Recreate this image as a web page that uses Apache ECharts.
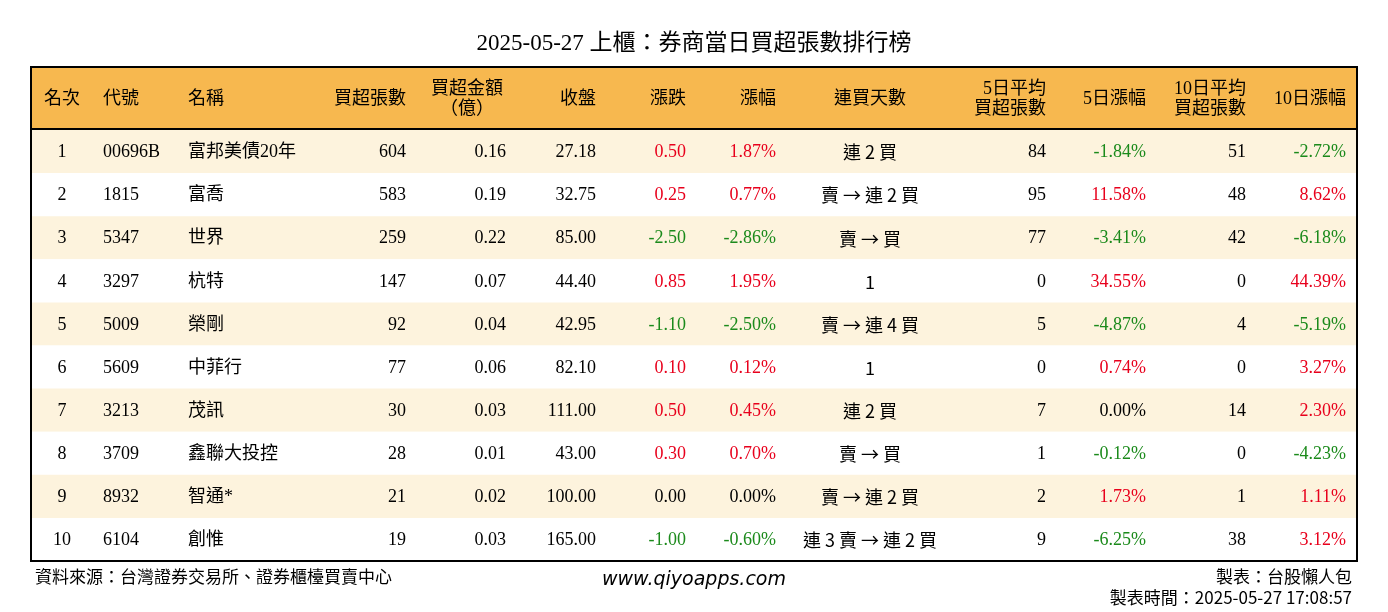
<!DOCTYPE html>
<html><head><meta charset="utf-8">
<script src="https://cdn.jsdelivr.net/npm/echarts@6/dist/echarts.min.js"></script>
<style>html,body{margin:0;padding:0;background:#fff}#main{width:1388px;height:612px}</style>
</head><body><div id="main"></div>
<script>
var ranks = ['1','2','3','4','5','6','7','8','9','10'];
var codes = ['00696B','1815','5347','3297','5009','5609','3213','3709','8932','6104'];
var names = ['富邦美債20年','富喬','世界','杭特','榮剛','中菲行','茂訊','鑫聯大投控','智通*','創惟'];
var netVol = [604,583,259,147,92,77,30,28,21,19];
var netAmt = ['0.16','0.19','0.22','0.07','0.04','0.06','0.03','0.01','0.02','0.03'];
var closes = ['27.18','32.75','85.00','44.40','42.95','82.10','111.00','43.00','100.00','165.00'];
var changes = ['0.50','0.25','-2.50','0.85','-1.10','0.10','0.50','0.30','0.00','-1.00'];
var pcts = ['1.87%','0.77%','-2.86%','1.95%','-2.50%','0.12%','0.45%','0.70%','0.00%','-0.60%'];
var streaks = ['連 2 買','賣 → 連 2 買','賣 → 買','1','賣 → 連 4 買','1','連 2 買','賣 → 買','賣 → 連 2 買','連 3 賣 → 連 2 買'];
var avg5 = [84,95,77,0,5,0,7,1,2,9];
var pct5 = ['-1.84%','11.58%','-3.41%','34.55%','-4.87%','0.74%','0.00%','-0.12%','1.73%','-6.25%'];
var avg10 = [51,48,42,0,4,0,14,0,1,38];
var pct10 = ['-2.72%','8.62%','-6.18%','44.39%','-5.19%','3.27%','2.30%','-4.23%','1.11%','3.12%'];

var FONT = '"Liberation Serif","Noto Sans CJK TC",serif';
var CJK = '"Noto Sans CJK TC","Liberation Serif",sans-serif';
var RED = '#e8001c', GREEN = '#1b8a1b';
function col(v){ var n = parseFloat(v); return n > 0 ? RED : (n < 0 ? GREEN : '#000'); }

// columns: x offset from table left edge, alignment
var cols = [
  {x: 31, a: 'center', h: '名次', v: function(i){return ranks[i];}},
  {x: 72, a: 'left', h: '代號', v: function(i){return codes[i];}},
  {x: 157, a: 'left', h: '名稱', v: function(i){return names[i];}},
  {x: 375, a: 'right', h: '買超張數', v: function(i){return String(netVol[i]);}},
  {x: 475, a: 'right', h: '買超金額\n（億）', hx: 436, ha: 'center', v: function(i){return netAmt[i];}},
  {x: 565, a: 'right', h: '收盤', v: function(i){return closes[i];}},
  {x: 655, a: 'right', h: '漲跌', v: function(i){return changes[i];}, c: function(i){return col(changes[i]);}},
  {x: 745, a: 'right', h: '漲幅', v: function(i){return pcts[i];}, c: function(i){return col(pcts[i]);}},
  {x: 839, a: 'center', h: '連買天數', f: CJK, v: function(i){return streaks[i];}},
  {x: 1015, a: 'right', h: '5日平均\n買超張數', v: function(i){return String(avg5[i]);}},
  {x: 1115, a: 'right', h: '5日漲幅', v: function(i){return pct5[i];}, c: function(i){return col(pct5[i]);}},
  {x: 1215, a: 'right', h: '10日平均\n買超張數', v: function(i){return String(avg10[i]);}},
  {x: 1315, a: 'right', h: '10日漲幅', v: function(i){return pct10[i];}, c: function(i){return col(pct10[i]);}}
];

var L = 31, T = 67, W = 1326, HH = 62, RB = 561;

var headerTexts = cols.map(function(c){
  return {type: 'text', z: 10, style: {x: L + (c.hx || c.x), y: T + HH/2 + 1, text: c.h, align: c.ha || c.a,
    verticalAlign: 'middle', font: '18px ' + FONT, lineHeight: 20, fill: '#000'}};
});

var chart = echarts.init(document.getElementById('main'));
chart.setOption({
  animation: false,
  title: {text: '2025-05-27 上櫃：券商當日買超張數排行榜', left: 'center', top: 27,
    textStyle: {fontFamily: FONT, fontSize: 23, fontWeight: 'normal', color: '#000'}},
  grid: {left: L, right: 1388 - L - W, top: T + HH + 1, bottom: 612 - RB},
  xAxis: {type: 'value', min: 0, max: W, show: false},
  yAxis: {type: 'category', data: ranks, inverse: true, show: false},
  graphic: [
    {type: 'rect', shape: {x: L, y: T, width: W, height: HH}, style: {fill: '#f7b84f'}},
    {type: 'line', z: 20, shape: {x1: L, y1: T + HH, x2: L + W, y2: T + HH}, style: {stroke: '#000', lineWidth: 2}},
    {type: 'rect', z: 20, shape: {x: L, y: T, width: W, height: RB - T}, style: {fill: null, stroke: '#000', lineWidth: 2}},
    {type: 'text', style: {x: 35, y: 577, text: '資料來源：台灣證券交易所、證券櫃檯買賣中心', verticalAlign: 'middle', font: '17px "Noto Sans CJK TC"', fill: '#000'}},
    {type: 'text', style: {x: 694, y: 580, text: 'www.qiyoapps.com', align: 'center', verticalAlign: 'middle', font: 'italic 19px "DejaVu Sans","Noto Sans"', fill: '#000'}},
    {type: 'text', style: {x: 1352, y: 577, text: '製表：台股懶人包', align: 'right', verticalAlign: 'middle', font: '17px "Noto Sans CJK TC"', fill: '#000'}},
    {type: 'text', style: {x: 1352, y: 598, text: '製表時間：2025-05-27 17:08:57', align: 'right', verticalAlign: 'middle', font: '17px "Noto Sans CJK TC"', fill: '#000'}}
  ].concat(headerTexts),
  series: [{
    type: 'custom',
    data: ranks.map(function(r, i){ return [0, i]; }),
    renderItem: function(params, api){
      var i = api.value(1);
      var p = api.coord([0, i]);
      var h = api.size([0, 1])[1];
      var children = [{type: 'rect', shape: {x: L, y: p[1] - h/2, width: W, height: h},
        style: {fill: i % 2 === 0 ? '#fdf3dd' : '#ffffff'}}];
      cols.forEach(function(c){
        children.push({type: 'text', style: {x: L + c.x, y: p[1] + 1, text: c.v(i), align: c.a, verticalAlign: 'middle',
          font: '18px ' + (c.f || FONT), fill: c.c ? c.c(i) : '#000'}});
      });
      return {type: 'group', children: children};
    }
  }]
});
</script></body></html>
